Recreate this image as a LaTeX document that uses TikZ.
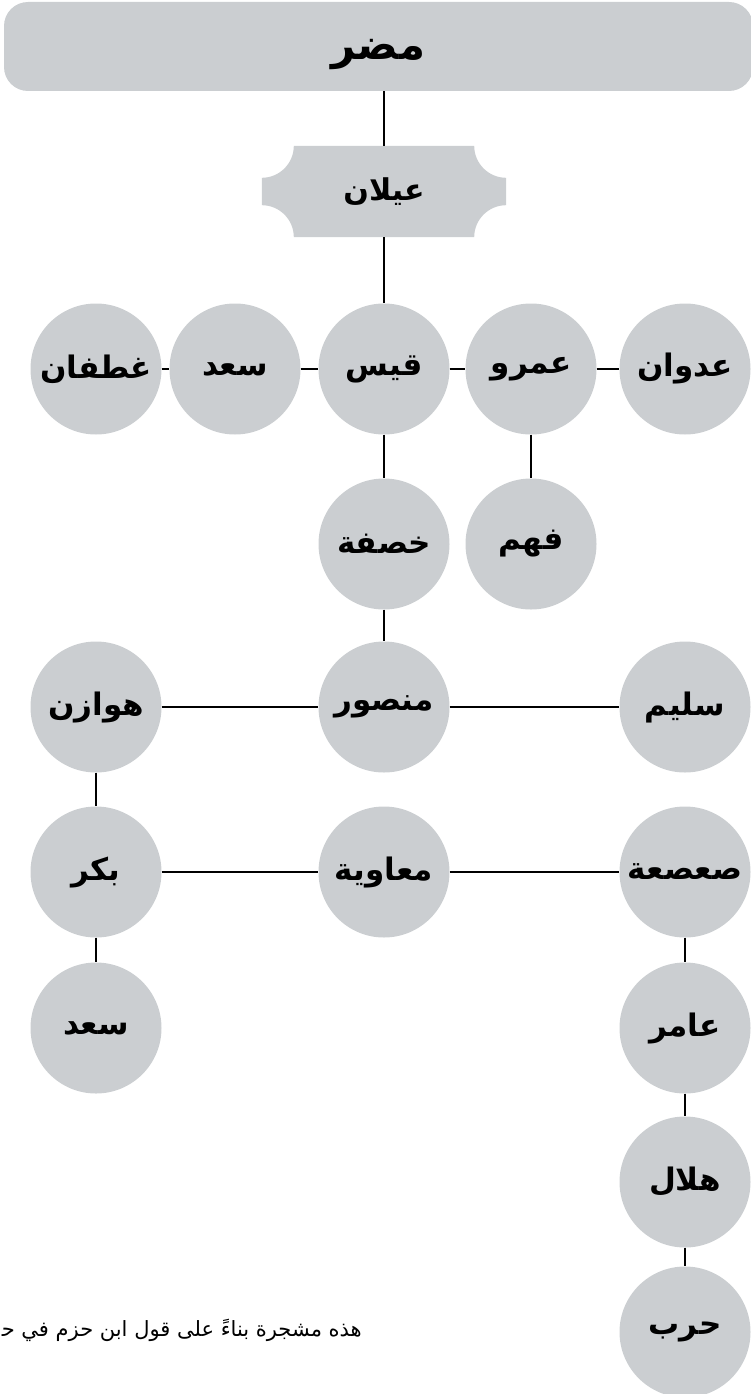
\documentclass[tikz,border=0pt]{standalone}
\usepackage{fontspec}
\usepackage{xcolor}
\usepackage{tikz}
\newfontfamily\arabicfont[Script=Arabic]{DejaVu Sans}
\TeXXeTstate=1
\definecolor{nodegray}{RGB}{203,206,209}
\pgfdeclarelayer{bg}
\pgfsetlayers{bg,main}
\tikzset{
  tribe/.style={circle, fill=nodegray, minimum size=131pt, inner sep=0pt,
    font=\arabicfont\bfseries\fontsize{31}{34}\selectfont},
  link/.style={draw=black, line width=1.1pt}
}

\begin{document}
\begin{tikzpicture}[x=1pt,y=1pt]
          \useasboundingbox (0,0) rectangle (751,-1394);

          \node[rectangle, rounded corners=24pt, fill=nodegray, minimum width=749pt, minimum height=89pt,
            font=\arabicfont\bfseries\fontsize{42}{46}\selectfont] (mudar) at (378.5,-46.5)
            {\raisebox{-13pt}[0pt][0pt]{\beginR مضر\endR}};
          \node[rectangle, inner sep=0pt, minimum width=244pt, minimum height=91pt,
            font=\arabicfont\bfseries\fontsize{30}{34}\selectfont] (aylan) at (384,-191.5) {\beginR عيلان\endR};
          \begin{pgfonlayer}{bg}
            \fill[nodegray] ([xshift=32pt]aylan.north west) -- ([xshift=-32pt]aylan.north east)
              arc[start angle=180, end angle=270, radius=32pt] -- ([yshift=32pt]aylan.south east)
              arc[start angle=90, end angle=180, radius=32pt] -- ([xshift=32pt]aylan.south west)
              arc[start angle=0, end angle=90, radius=32pt] -- ([yshift=-32pt]aylan.north west)
              arc[start angle=270, end angle=360, radius=32pt] -- cycle;
          \end{pgfonlayer}

          \foreach \name/\x/\y/\label in {ghatafan/96/369/غطفان, saadA/235/369/سعد, qays/384/369/قيس,
            amr/531/369/عمرو, adwan/685/369/عدوان, khasafa/384/544/خصفة, fahm/531/544/فهم,
            hawazin/96/707/هوازن, mansur/384/707/منصور, sulaym/685/707/سليم,
            bakr/96/872/بكر, muawiya/384/872/معاوية, sasaa/685/872/صعصعة,
            saadB/96/1028/سعد, amir/685/1028/عامر, hilal/685/1182/هلال, harb/685/1332/حرب}{%
            \node[tribe] (\name) at (\x,-\y) {\beginR\label\endR};
          }

          \draw[link] (mudar.south -| aylan.north) -- (aylan.north);
          \foreach \a/\b in {aylan/qays, ghatafan/saadA, saadA/qays, qays/amr, amr/adwan, amr/fahm,
            qays/khasafa, khasafa/mansur, hawazin/mansur, mansur/sulaym, hawazin/bakr,
            bakr/muawiya, muawiya/sasaa, bakr/saadB, sasaa/amir, amir/hilal, hilal/harb}{
            \draw[link] (\a) -- (\b);
          }

          \node[anchor=base east, inner sep=0pt, font=\arabicfont\fontsize{21}{24}\selectfont] (note)
            at (362,-1336) {\beginR هذه مشجرة بناءً على قول ابن حزم في ح\char"200D\endR};
        \end{tikzpicture}
\end{document}
